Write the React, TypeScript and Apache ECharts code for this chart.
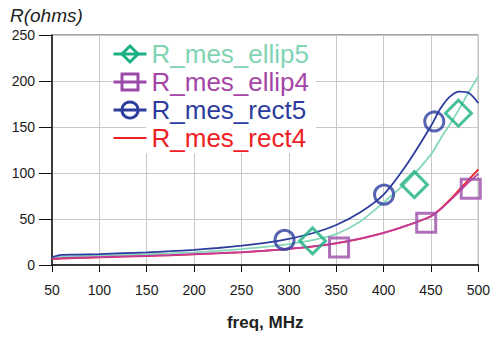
import React, { useEffect, useRef } from "react";
import * as echarts from "echarts";

const freq = [50, 60, 75, 100, 125, 150, 175, 200, 225, 250, 275, 300, 325, 350, 375, 400, 425, 450, 460, 470, 480, 490, 500];
const rect5 = [8.5, 11, 11.3, 11.8, 12.8, 13.8, 15, 16.5, 18.5, 21, 24, 28.5, 34.5, 43.5, 57, 76.5, 110, 151, 170, 183, 188.5, 187, 176];
const ellip5 = [8, 8.8, 9.5, 10.3, 11, 11.7, 12.6, 13.8, 15.3, 17.3, 19.7, 22.8, 27, 33.5, 47, 68, 91, 120, 137, 153, 170, 188, 205];
const rect4 = [6.5, 7, 7.5, 8.3, 9, 9.8, 10.6, 11.6, 12.6, 13.8, 15.5, 17.5, 20, 23.6, 28.5, 34.8, 43, 53, 61, 71, 82, 93, 104];
const ellip4 = [7, 7.4, 7.9, 8.6, 9.3, 10, 10.8, 11.8, 12.8, 14, 15.6, 17.6, 20.2, 23.8, 28.6, 34.8, 43, 53, 60.5, 70, 80, 90, 99];

const rect5MarkF = [295.5, 400.5, 453.5];
const rect5MarkR = [27.3, 76.5, 156];
const ellip5MarkF = [325, 432.5, 479];
const ellip5MarkR = [26.2, 87.3, 165];
const ellip4MarkF = [353, 445, 492];
const ellip4MarkR = [19, 46, 83];

const names = ["R_mes_ellip5", "R_mes_ellip4", "R_mes_rect5", "R_mes_rect4"];
const yTicks = [0, 50, 100, 150, 200, 250];

const FONT = "'Liberation Sans', Arial, Helvetica, sans-serif";

export default function App() {
  const ref = useRef<HTMLDivElement>(null);
  useEffect(() => {
    if (!ref.current) return;
    const chart = echarts.init(ref.current, undefined, { renderer: "svg" });
    const pair = (xs: number[], ys: number[]) => xs.map((x, i) => [x, ys[i]]);
    const marker = (c: string) => ({ color: "rgba(0,0,0,0)", borderColor: c, borderWidth: 3 });

    const cEllip5Line = "#86d8b9";
    const cEllip5Mark = "#1bb083";
    const cEllip4Line = "#c23c9c";
    const cEllip4Mark = "#9b4ba8";
    const cRect5 = "#2d3d9e";
    const cRect4 = "#ef2024";

    chart.setOption({
      animation: false,
      backgroundColor: "#fff",
      textStyle: { fontFamily: FONT },
      grid: { left: 52, right: 14, top: 35, bottom: 73, show: true, borderColor: "#444", borderWidth: 1 },
      graphic: [
        { type: "rect", z: 1, shape: { x: 146, y: 36, width: 170, height: 117 }, style: { fill: "#fff" } },
        {
          type: "text",
          left: 10,
          top: 6,
          style: { text: "R(ohms)", font: `italic 19px ${FONT}`, fill: "#222" },
        },
      ],
      legend: {
        orient: "vertical",
        left: 112,
        top: 41,
        padding: 0,
        itemWidth: 33,
        itemHeight: 20,
        itemGap: 2,
        textStyle: { fontSize: 26, lineHeight: 25, fontFamily: FONT },
        data: [
          { name: names[0], textStyle: { color: "#80d3b3" }, itemStyle: marker(cEllip5Mark), lineStyle: { color: cEllip5Mark, width: 3 } },
          { name: names[1], textStyle: { color: "#a545a6" }, itemStyle: marker(cEllip4Mark), lineStyle: { color: cEllip4Mark, width: 3 } },
          { name: names[2], textStyle: { color: cRect5 }, itemStyle: marker(cRect5), lineStyle: { color: cRect5, width: 3 } },
          {
            name: names[3],
            textStyle: { color: cRect4 },
            icon: "path://M0,0 L33,0 L33,2 L0,2 Z",
            itemStyle: { color: cRect4, borderWidth: 0 },
          },
        ],
      },
      xAxis: {
        type: "value",
        min: 50,
        max: 500,
        interval: 50,
        name: "freq, MHz",
        nameLocation: "middle",
        nameGap: 49,
        nameTextStyle: { fontSize: 17, fontWeight: "bold", color: "#222", fontFamily: FONT },
        axisLine: { show: true, lineStyle: { color: "#111", width: 1.5 } },
        axisTick: { show: true, length: 7, lineStyle: { color: "#111" } },
        axisLabel: { fontSize: 14, color: "#1a1a1a", margin: 18, fontFamily: FONT },
        splitLine: { show: true, lineStyle: { color: "#c8c8c8", width: 1 } },
      },
      yAxis: {
        type: "value",
        min: yTicks[0],
        max: yTicks[yTicks.length - 1],
        interval: 50,
        axisLine: { show: true, lineStyle: { color: "#111", width: 1.5 } },
        axisTick: { show: true, length: 13, lineStyle: { color: "#111" } },
        axisLabel: { fontSize: 14, color: "#1a1a1a", margin: 17, fontFamily: FONT },
        splitLine: { show: true, lineStyle: { color: "#c8c8c8", width: 1 } },
      },
      series: [
        {
          name: names[0],
          type: "line",
          data: pair(freq, ellip5),
          symbol: "diamond",
          showSymbol: false,
          smooth: 0.3,
          lineStyle: { color: cEllip5Line, width: 1.8 },
          itemStyle: marker(cEllip5Mark),
          z: 3,
        },
        {
          name: names[3],
          type: "line",
          data: pair(freq, rect4),
          symbol: "none",
          smooth: 0.3,
          lineStyle: { color: cRect4, width: 1.8 },
          itemStyle: { color: cRect4 },
          z: 2,
        },
        {
          name: names[1],
          type: "line",
          data: pair(freq, ellip4),
          symbol: "rect",
          showSymbol: false,
          smooth: 0.3,
          lineStyle: { color: cEllip4Line, width: 1.8 },
          itemStyle: marker(cEllip4Mark),
          z: 3,
        },
        {
          name: names[2],
          type: "line",
          data: pair(freq, rect5),
          symbol: "circle",
          showSymbol: false,
          smooth: 0.3,
          lineStyle: { color: cRect5, width: 1.8 },
          itemStyle: marker(cRect5),
          z: 4,
        },
        {
          type: "scatter",
          data: pair(ellip5MarkF, ellip5MarkR),
          symbol: "diamond",
          symbolSize: [26, 26],
          itemStyle: marker(cEllip5Mark),
          z: 5,
        },
        {
          type: "scatter",
          data: pair(ellip4MarkF, ellip4MarkR),
          symbol: "rect",
          symbolSize: 19,
          itemStyle: marker(cEllip4Mark),
          z: 5,
        },
        {
          type: "scatter",
          data: pair(rect5MarkF, rect5MarkR),
          symbol: "circle",
          symbolSize: 19,
          itemStyle: marker(cRect5),
          z: 5,
        },
      ],
    });
    return () => chart.dispose();
  }, []);
  return <div ref={ref} style={{ width: 493, height: 338, position: "absolute", left: 0, top: 0 }} />;
}
